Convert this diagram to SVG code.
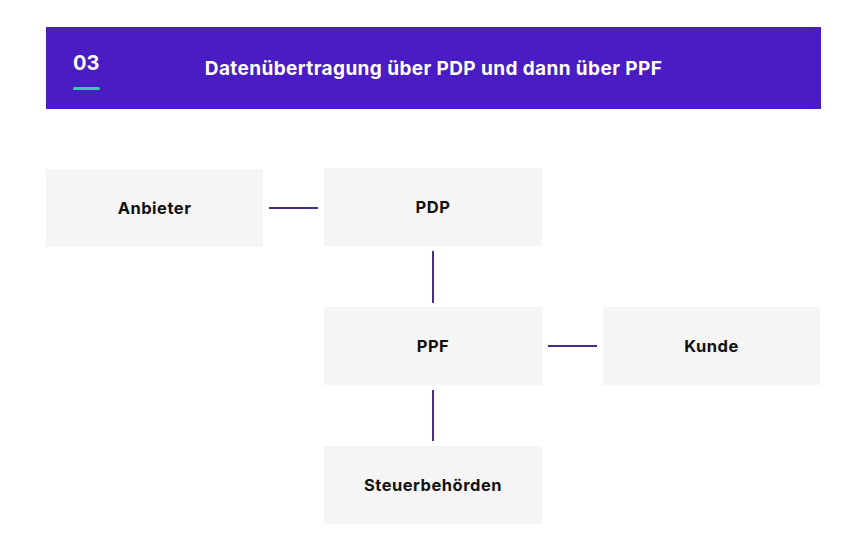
<svg xmlns="http://www.w3.org/2000/svg" width="865" height="552" viewBox="0 0 865 552">
<style>
.box{fill:#f5f5f5}
.lbl{font-family:Inter,"Liberation Sans",sans-serif;font-weight:700;font-size:16.5px;letter-spacing:0.5px;fill:#111;text-anchor:middle}
.conn{stroke:#4a2c86;stroke-width:2;fill:none}
.hdr{font-family:Inter,"Liberation Sans",sans-serif;font-weight:700;fill:#fff}
</style>
<rect width="865" height="552" fill="#fff"/>
<g id="header">
<rect x="46" y="27" width="775" height="82" fill="#491dc3"/>
<text class="hdr" x="73" y="70" font-size="20">03</text>
<rect x="73" y="87" width="27" height="3" rx="1.5" fill="#2fd2a4"/>
<text class="hdr" x="433.5" y="75" font-size="19" letter-spacing="0.4" text-anchor="middle">Datenübertragung über PDP und dann über PPF</text>
</g>
<g id="connectors">
<line class="conn" x1="269" y1="208" x2="318" y2="208"/>
<line class="conn" x1="433" y1="251" x2="433" y2="303"/>
<line class="conn" x1="548" y1="346" x2="597" y2="346"/>
<line class="conn" x1="433" y1="390" x2="433" y2="441"/>
</g>
<g id="anbieter"><rect class="box" x="46" y="169" width="217" height="78"/><text class="lbl" x="154.5" y="214">Anbieter</text></g>
<g id="pdp"><rect class="box" x="324" y="168" width="218" height="78"/><text class="lbl" x="433" y="213">PDP</text></g>
<g id="ppf"><rect class="box" x="324" y="307" width="218" height="78"/><text class="lbl" x="433" y="352">PPF</text></g>
<g id="kunde"><rect class="box" x="603" y="307" width="217" height="78"/><text class="lbl" x="711.5" y="352">Kunde</text></g>
<g id="steuer"><rect class="box" x="324" y="446" width="218" height="78"/><text class="lbl" x="433" y="491">Steuerbehörden</text></g>
</svg>
